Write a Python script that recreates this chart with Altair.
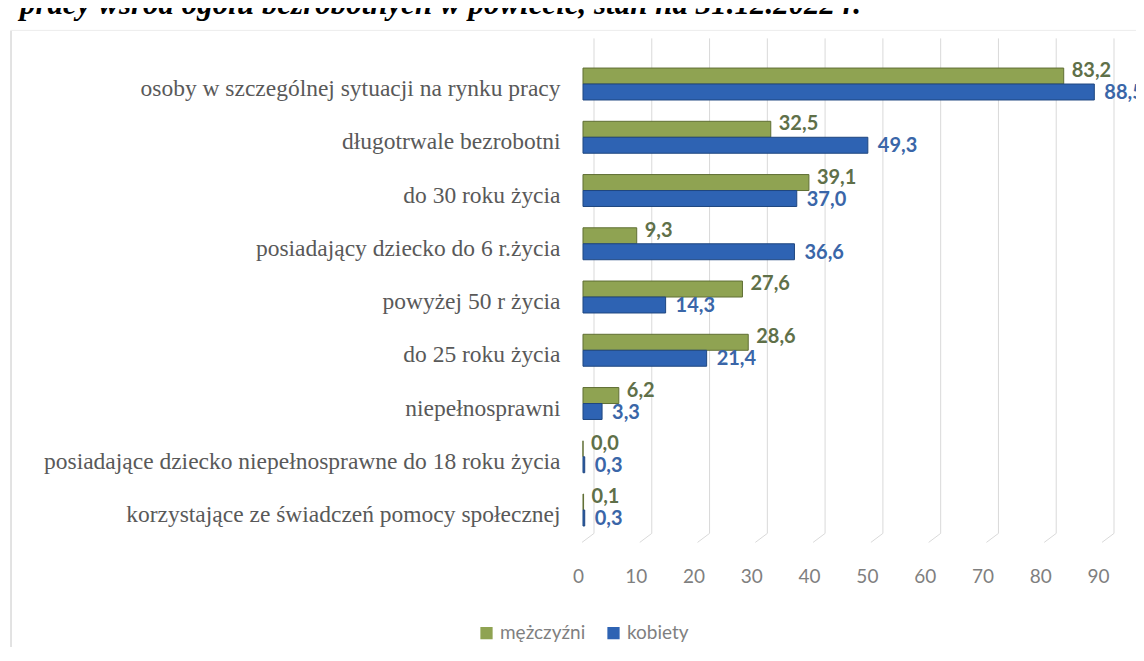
import altair as alt
import pandas as pd

title_text = "pracy wśród ogółu bezrobotnych w powiecie, stan na 31.12.2022 r."
categories = [
    "osoby w szczególnej sytuacji na rynku pracy",
    "długotrwale bezrobotni",
    "do 30 roku życia",
    "posiadający dziecko do 6 r.życia",
    "powyżej 50 r życia",
    "do 25 roku życia",
    "niepełnosprawni",
    "posiadające dziecko niepełnosprawne do 18 roku życia",
    "korzystające ze świadczeń pomocy społecznej",
]
men = [83.2, 32.5, 39.1, 9.3, 27.6, 28.6, 6.2, 0.0, 0.1]
women = [88.5, 49.3, 37.0, 36.6, 14.3, 21.4, 3.3, 0.3, 0.3]
series = ["mężczyźni", "kobiety"]
ticks = [0, 10, 20, 30, 40, 50, 60, 70, 80, 90]

fill_colors = ["#8fa352", "#2e63b3"]
stroke_colors = ["#5f6e34", "#1f467f"]
label_colors = ["#5f7049", "#3a66a8"]

rows = []
for c, m, w in zip(categories, men, women):
    rows.append({"cat": c, "series": series[0], "v": m})
    rows.append({"cat": c, "series": series[1], "v": w})
df = pd.DataFrame(rows)
tick_df = pd.DataFrame({"t": ticks})
one = pd.DataFrame({"a": [0]})

W = 520
H = 479.25

xscale = alt.Scale(domain=[0, 90], nice=False)
yenc = alt.Y(
    "cat:N",
    sort=categories,
    scale=alt.Scale(paddingInner=0.4, paddingOuter=0.2),
    axis=alt.Axis(
        title=None, domain=False, ticks=False, labelPadding=23, labelOffset=5,
        labelFont="Liberation Serif", labelFontSize=23.5, labelColor="#595959",
        labelLimit=700,
    ),
)
yoff = alt.YOffset("series:N", sort=series)

frame_left = alt.Chart(one).mark_rule(color="#d9d9d9", strokeWidth=1.5).encode(
    x=alt.value(-572), y=alt.value(-27), y2=alt.value(600)
)
frame_top = alt.Chart(one).mark_rule(color="#ececec", strokeWidth=1).encode(
    x=alt.value(-572), x2=alt.value(560), y=alt.value(-27)
)
title = alt.Chart(one).mark_text(
    align="left", baseline="alphabetic", font="Liberation Serif",
    fontStyle="italic", fontWeight="bold", fontSize=31, color="#000000",
).encode(x=alt.value(-563), y=alt.value(-43), text=alt.value(title_text))

grid = alt.Chart(tick_df).mark_rule(color="#d9d9d9", strokeWidth=1, xOffset=11).encode(
    x=alt.X("t:Q", scale=xscale), y=alt.value(-19), y2=alt.value(476)
)
floor = alt.Chart(tick_df).mark_rule(color="#d9d9d9", strokeWidth=1, xOffset=11, x2Offset=-1).encode(
    x=alt.X("t:Q", scale=xscale), x2="t:Q", y=alt.value(476), y2=alt.value(485)
)

bars = alt.Chart(df).mark_bar(strokeWidth=1).encode(
    x=alt.X(
        "v:Q", scale=xscale,
        axis=alt.Axis(
            values=ticks, title=None, grid=False, domain=False, ticks=False,
            labelPadding=31, labelOffset=-5, labelFlush=False, labelFont="Lato",
            labelFontSize=19, labelColor="#7f7f7f",
        ),
    ),
    y=yenc,
    yOffset=yoff,
    color=alt.Color(
        "series:N", sort=series,
        scale=alt.Scale(domain=series, range=fill_colors),
        legend=alt.Legend(
            title=None, orient="none", legendX=-106, legendY=566, direction="horizontal",
            symbolType="square", symbolSize=150, symbolStrokeWidth=0,
            labelFont="Lato", labelFontSize=19, labelColor="#7f7f7f", columnPadding=18,
        ),
    ),
    stroke=alt.Stroke("series:N", sort=series, scale=alt.Scale(domain=series, range=stroke_colors), legend=None),
)

lab_expr = "replace(format(datum.v, '.1f'), '.', ',')"
text_m = alt.Chart(df).transform_filter(alt.datum.series == series[0]).transform_calculate(
    lab=lab_expr
).mark_text(align="left", baseline="middle", dx=8, dy=-5, font="Lato", fontWeight="bold",
            fontSize=20, color=label_colors[0]).encode(
    x=alt.X("v:Q", scale=xscale), y=yenc, yOffset=yoff, text="lab:N"
)
text_w = alt.Chart(df).transform_filter(alt.datum.series == series[1]).transform_calculate(
    lab=lab_expr
).mark_text(align="left", baseline="middle", dx=10, dy=1, font="Lato", fontWeight="bold",
            fontSize=20, color=label_colors[1]).encode(
    x=alt.X("v:Q", scale=xscale), y=yenc, yOffset=yoff, text="lab:N"
)

chart = alt.layer(frame_left, frame_top, title, grid, floor, bars, text_m, text_w).properties(
    width=W, height=H,
    padding={"left": 575, "top": 49.4, "right": 33, "bottom": 110},
    autosize="none",
).configure_view(stroke=None)

chart.save("out.html", embed_options={"renderer": "svg", "actions": False})
